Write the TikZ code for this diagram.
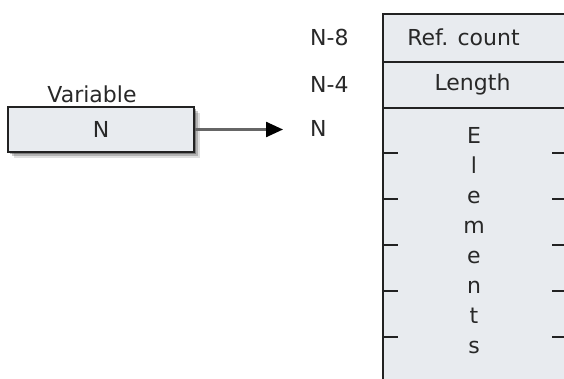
\documentclass[tikz,border=0pt]{standalone}
\usepackage{fontspec}
\setmainfont{DejaVu Sans}
\usepackage{tikz}
\usetikzlibrary{arrows.meta,positioning,shadows}
\definecolor{cellfill}{RGB}{232, 235, 239}
\definecolor{cellline}{RGB}{34, 34, 34}
\definecolor{labeltext}{RGB}{40, 40, 40}

\begin{document}
\begin{tikzpicture}[
    x=1pt, y=-1pt,
    every node/.style={font=\fontsize{22}{26}\selectfont, text=labeltext},
    cell/.style={rectangle, draw=cellline, fill=cellfill, line width=1.6pt, minimum width=184pt, inner sep=0pt},
    varbox/.style={rectangle, draw=cellline, fill=cellfill, line width=1.6pt, minimum width=186pt, minimum height=45pt, inner sep=0pt,
        drop shadow={shadow xshift=6pt, shadow yshift=-6pt, fill=black, opacity=0.12},
        drop shadow={shadow xshift=4pt, shadow yshift=-4pt, fill=black, opacity=0.2},
        drop shadow={shadow xshift=2pt, shadow yshift=-2pt, fill=black, opacity=0.3}},
    addr/.style={anchor=west, inner sep=0pt},
    tick/.style={draw=cellline, line width=1.4pt},
    arrow/.style={line width=2.4pt, draw=black!60, -{Triangle[length=17pt, width=15pt, color=black]}}
]
\useasboundingbox (0,0) rectangle (564,378);

% Variable holding N
\node[varbox] (var) at (101,129.5) {N};
\node[above=3pt of var.north, anchor=south, inner sep=0pt, xshift=-9pt] (varlabel) {Variable};

% Heap block: header fields and elements
\node[cell, anchor=north west, minimum height=48pt] (refcount) at (382,13) {};
\node[cell, anchor=north west, minimum height=46pt] (length) at (382,61) {};
\node[cell, anchor=north west, minimum height=300pt] (elements) at (382,107) {};
\node[inner sep=0pt] (refcounttext) at (463.5,37) {Ref. count};
\node[inner sep=0pt] (lengthtext) at (472.5,84) {Length};

% Letters stacked down the elements area
\foreach \ch [count=\i] in {E,l,e,m,e,n,t,s}
    \node[anchor=base, inner sep=0pt] (elem-\i) at (474,{143+30*(\i-1)}) {\ch};

% Slot boundaries
\foreach \y in {153,199,245,291,337} {
    \draw[tick] (382,\y) -- ++(16,0);
    \draw[tick] (566,\y) -- ++(-14,0);
}

% Addresses
\node[addr] (addr8) at (310,37) {N-8};
\node[addr] (addr4) at (310,84) {N-4};
\node[addr] (addrN) at (310,128) {N};

% Pointer
\draw[arrow, shorten >=27pt] (var.east) -- (var.east -| addrN.west);

\end{tikzpicture}
\end{document}
